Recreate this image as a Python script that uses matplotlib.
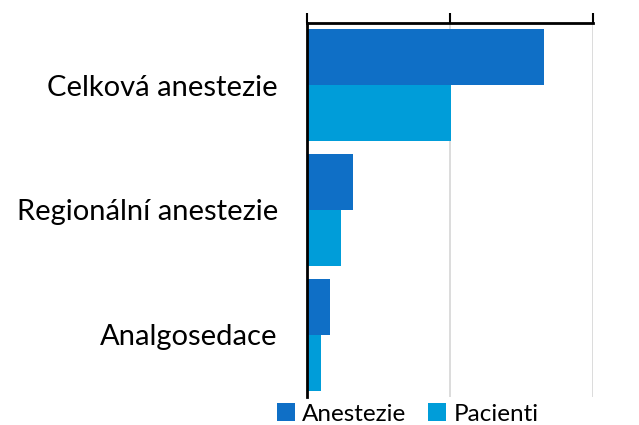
import numpy as np
import matplotlib
matplotlib.use('Agg')
import matplotlib.pyplot as plt

categories = ['Celková anestezie', 'Regionální anestezie', 'Analgosedace']
anestezie = [1.66, 0.32, 0.16]
pacienti = [1.01, 0.24, 0.10]
series_names = ['Anestezie', 'Pacienti']
colors = ['#0F6FC6', '#009DD9']

plt.rcParams['font.family'] = ['Lato', 'DejaVu Sans']

fig = plt.figure(figsize=(6.39, 4.25), dpi=100)
ax = fig.add_axes([0.4804, 0.0659, 0.928 - 0.4804, 0.88])

y = np.arange(len(categories))
h = 0.45
ax.barh(y - h / 2, anestezie, height=h, color=colors[0], label=series_names[0], zorder=3)
ax.barh(y + h / 2, pacienti, height=h, color=colors[1], label=series_names[1], zorder=3)

ax.set_ylim(len(categories) - 0.5, -0.5)
ax.set_xlim(0, 2)
ax.set_xticks([0, 1, 2])
ax.xaxis.set_ticks_position('top')
ax.tick_params(axis='x', direction='out', length=7, width=1.5, labeltop=False, colors='black')
ax.grid(axis='x', color='#D9D9D9', lw=1.3, zorder=0)

ax.set_yticks(y)
ax.set_yticklabels(categories, fontsize=21)
ax.tick_params(axis='y', length=0, pad=21)

for s in ['right', 'bottom']:
    ax.spines[s].set_visible(False)
ax.spines['top'].set_linewidth(2)
ax.spines['left'].set_linewidth(2)
ax.spines['left'].set_zorder(4)

fig.legend(loc='center', bbox_to_anchor=(0.638, 0.026), ncol=2, frameon=False,
           fontsize=17.5, handlelength=0.75, handleheight=0.75, handletextpad=0.3,
           columnspacing=0.9, borderpad=0)

fig.savefig('out.png', dpi=100)
